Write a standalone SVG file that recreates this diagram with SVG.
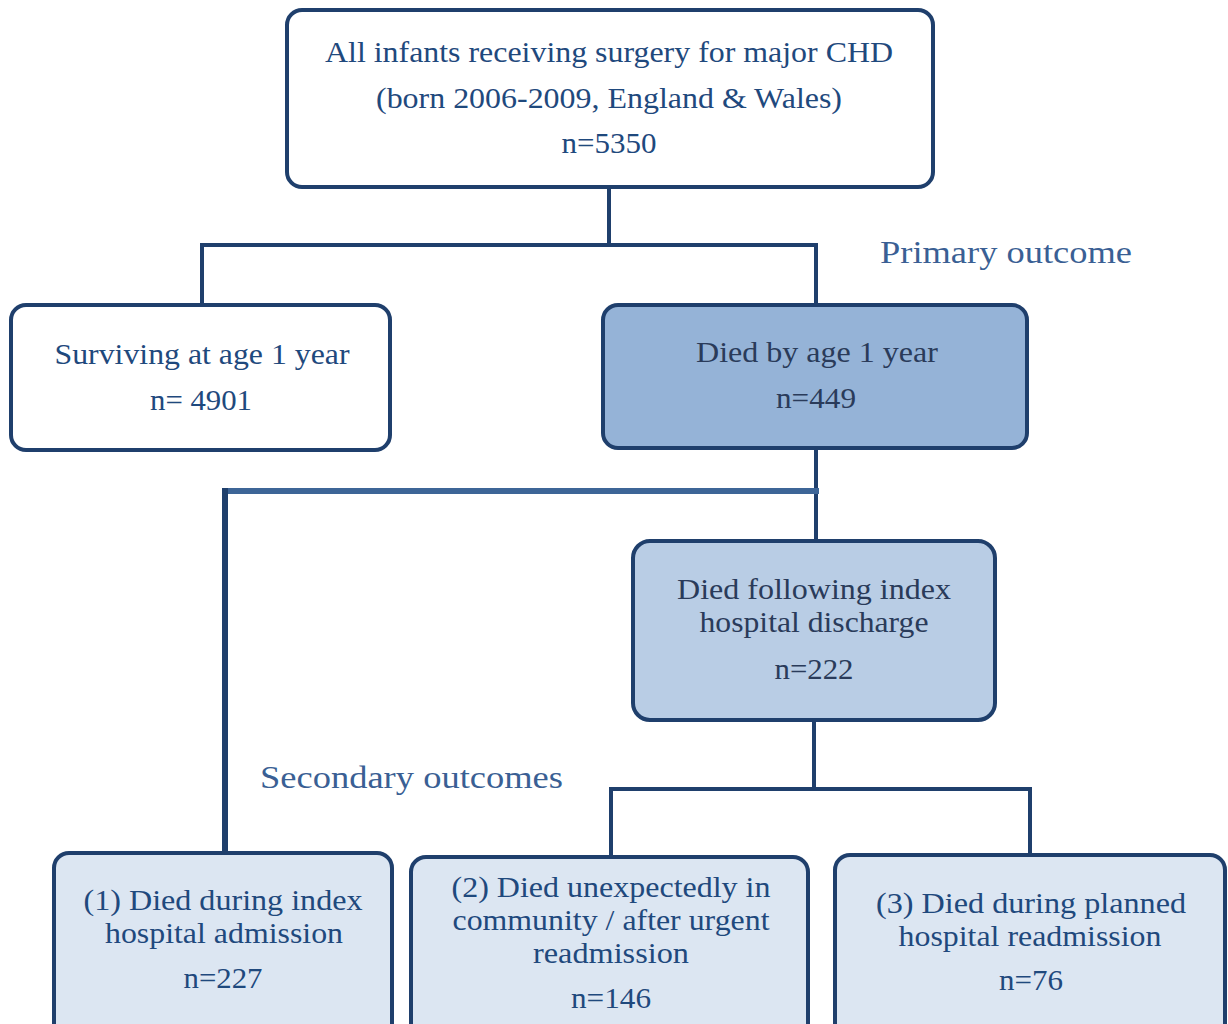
<svg xmlns="http://www.w3.org/2000/svg" width="1228" height="1024" viewBox="0 0 1228 1024" font-family="'Liberation Serif', 'Times New Roman', Times, serif">
<style>
.box{stroke:#1f3f6c;stroke-width:4}
.w{fill:#ffffff}
.d{fill:#95b3d7}
.m{fill:#b9cde5}
.l{fill:#dce6f2}
text{font-size:30px;fill:#1f497d;text-anchor:middle}
.dk{fill:#2a3b5a}
.lab{fill:#3a5f94;text-anchor:start;font-size:31px}
.c{fill:none;stroke:#1f3f6c;stroke-width:4}
</style>
<rect width="1228" height="1024" fill="#ffffff"/>
<g id="connectors">
<path class="c" d="M609 187 V245 M202 305 V245 H816 V305"/>
<path class="c" d="M816 448 V541"/>
<path d="M225 491 H819" fill="none" stroke="#3d6597" stroke-width="6"/>
<path d="M225 488 V855" fill="none" stroke="#1f3f6c" stroke-width="6"/>
<path class="c" d="M814 720 V789 M611 857 V789 H1030 V856"/>
</g>
<g id="n_all">
<rect class="box w" x="287" y="10" width="646" height="177" rx="15"/>
<text x="609" y="62" textLength="568" lengthAdjust="spacingAndGlyphs">All infants receiving  surgery for major CHD</text>
<text x="609" y="108" textLength="466" lengthAdjust="spacingAndGlyphs">(born 2006-2009,  England &amp; Wales)</text>
<text x="609" y="153" textLength="95" lengthAdjust="spacingAndGlyphs">n=5350</text>
</g>
<g id="n_surv">
<rect class="box w" x="11" y="305" width="379" height="145" rx="15"/>
<text x="202" y="364" textLength="295" lengthAdjust="spacingAndGlyphs">Surviving  at age 1 year</text>
<text x="201" y="410" textLength="102" lengthAdjust="spacingAndGlyphs">n= 4901</text>
</g>
<g id="n_died">
<rect class="box d" x="603" y="305" width="424" height="143" rx="15"/>
<text class="dk" x="817" y="362" textLength="242" lengthAdjust="spacingAndGlyphs">Died by age 1 year</text>
<text class="dk" x="816" y="408" textLength="80" lengthAdjust="spacingAndGlyphs">n=449</text>
</g>
<text class="lab" x="880" y="263" textLength="252" lengthAdjust="spacingAndGlyphs">Primary  outcome</text>
<g id="n_follow">
<rect class="box m" x="633" y="541" width="362" height="179" rx="17"/>
<text class="dk" x="814" y="599" textLength="274" lengthAdjust="spacingAndGlyphs">Died following index</text>
<text class="dk" x="814" y="632" textLength="229" lengthAdjust="spacingAndGlyphs">hospital discharge</text>
<text class="dk" x="814" y="679" textLength="79" lengthAdjust="spacingAndGlyphs">n=222</text>
</g>
<text class="lab" x="260" y="788" textLength="303" lengthAdjust="spacingAndGlyphs">Secondary  outcomes</text>
<g id="n_out1">
<rect class="box l" x="54" y="853" width="338" height="190" rx="15"/>
<text x="223" y="910" textLength="279" lengthAdjust="spacingAndGlyphs">(1) Died during index</text>
<text x="224" y="943" textLength="238" lengthAdjust="spacingAndGlyphs">hospital admission</text>
<text x="223" y="988" textLength="79" lengthAdjust="spacingAndGlyphs">n=227</text>
</g>
<g id="n_out2">
<rect class="box l" x="411" y="857" width="397" height="186" rx="15"/>
<text x="611" y="897" textLength="319" lengthAdjust="spacingAndGlyphs">(2) Died unexpectedly in</text>
<text x="611" y="930" textLength="317" lengthAdjust="spacingAndGlyphs">community / after urgent</text>
<text x="611" y="963" textLength="156" lengthAdjust="spacingAndGlyphs">readmission</text>
<text x="611" y="1008" textLength="80" lengthAdjust="spacingAndGlyphs">n=146</text>
</g>
<g id="n_out3">
<rect class="box l" x="835" y="855" width="390" height="188" rx="15"/>
<text x="1031" y="913" textLength="310" lengthAdjust="spacingAndGlyphs">(3) Died during planned</text>
<text x="1030" y="946" textLength="263" lengthAdjust="spacingAndGlyphs">hospital readmission</text>
<text x="1031" y="990" textLength="64" lengthAdjust="spacingAndGlyphs">n=76</text>
</g>
</svg>
